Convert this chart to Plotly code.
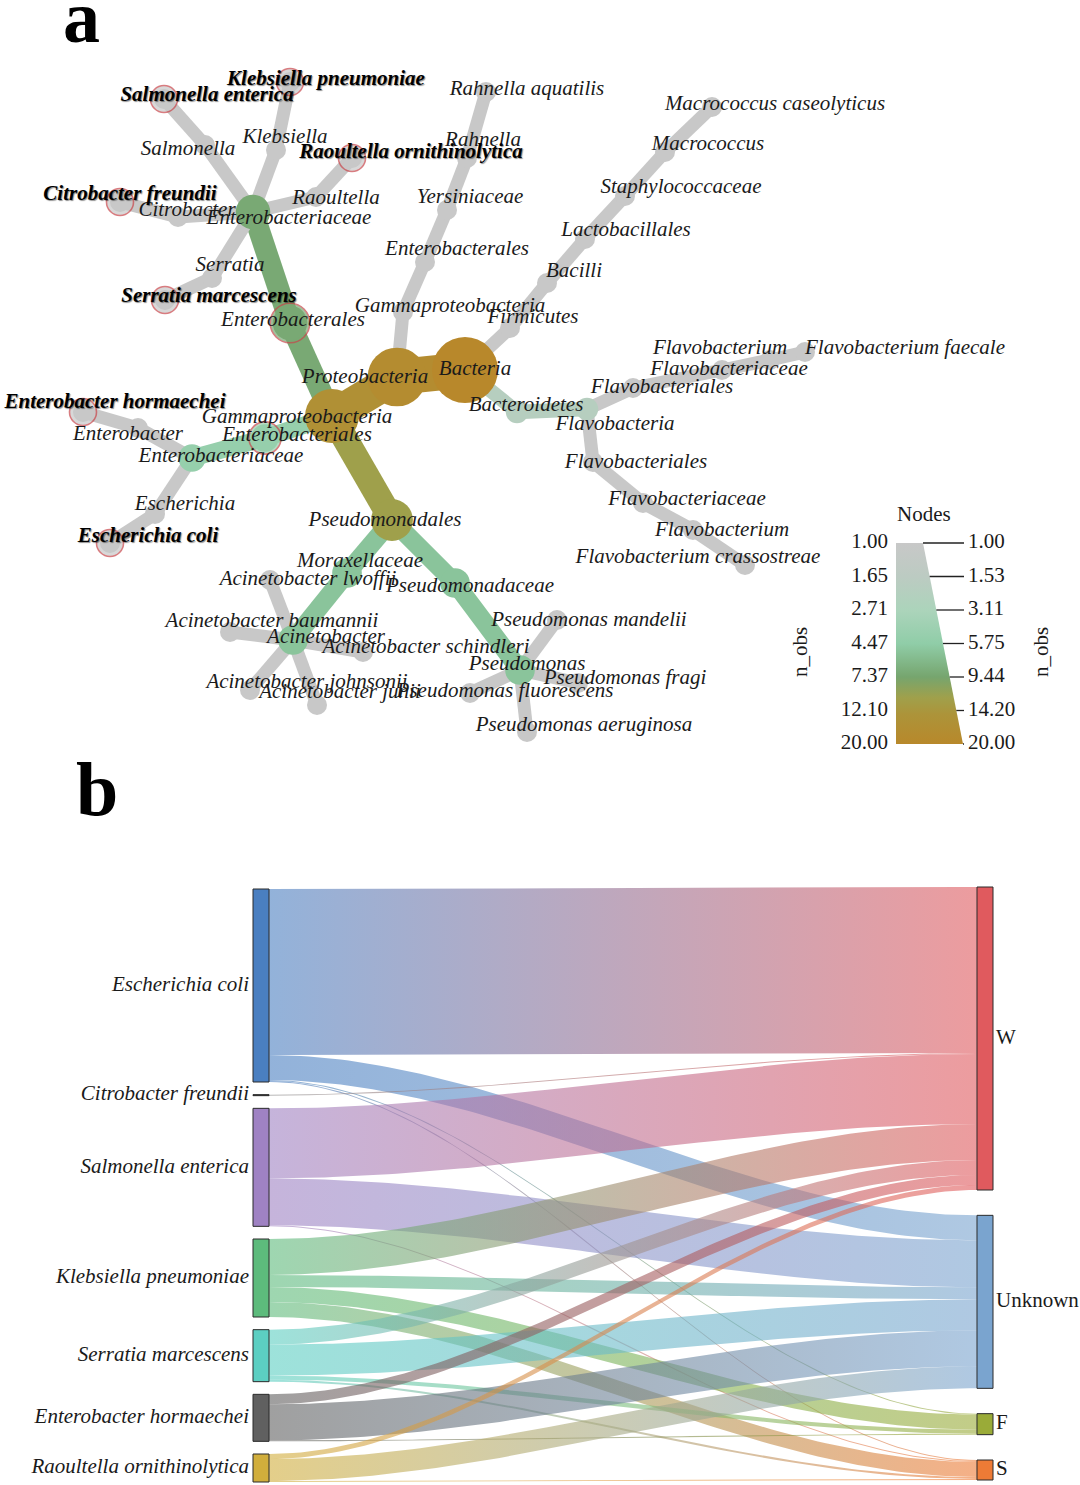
import numpy as np
import plotly.graph_objects as go
from plotly.colors import sample_colorscale

FONT = "Liberation Serif"

# ======================= Panel a : heat tree data =======================
taxa = [
    "Bacteria", "Proteobacteria", "Gammaproteobacteria", "Enterobacterales", "Enterobacteriaceae",
    "Salmonella", "Salmonella enterica", "Klebsiella", "Klebsiella pneumoniae", "Raoultella",
    "Raoultella ornithinolytica", "Citrobacter", "Citrobacter freundii", "Serratia", "Serratia marcescens",
    "Enterobacteriales", "Enterobacteriaceae", "Enterobacter", "Enterobacter hormaechei", "Escherichia",
    "Escherichia coli", "Pseudomonadales", "Moraxellaceae", "Acinetobacter", "Acinetobacter lwoffii",
    "Acinetobacter baumannii", "Acinetobacter schindleri", "Acinetobacter johnsonii", "Acinetobacter junii",
    "Pseudomonadaceae", "Pseudomonas", "Pseudomonas mandelii", "Pseudomonas fragi", "Pseudomonas fluorescens",
    "Pseudomonas aeruginosa", "Gammaproteobacteria", "Enterobacterales", "Yersiniaceae", "Rahnella",
    "Rahnella aquatilis", "Firmicutes", "Bacilli", "Lactobacillales", "Staphylococcaceae", "Macrococcus",
    "Macrococcus caseolyticus", "Bacteroidetes", "Flavobacteria", "Flavobacteriales", "Flavobacteriaceae",
    "Flavobacterium", "Flavobacterium faecale", "Flavobacteriales", "Flavobacteriaceae", "Flavobacterium",
    "Flavobacterium crassostreae",
]
parent = [
    -1, 0, 1, 2, 3, 4, 5, 4, 7, 4, 9, 4, 11, 4, 13,
    2, 15, 16, 17, 16, 19,
    2, 21, 22, 23, 23, 23, 23, 23, 21, 29, 30, 30, 30, 30,
    1, 35, 36, 37, 38,
    0, 40, 41, 42, 43, 44,
    0, 46, 47, 48, 49, 50, 47, 52, 53, 54,
]
n_obs = [
    20, 17, 15, 7, 7, 1, 1, 1, 1, 1, 1, 1, 1, 1, 1,
    4, 4, 1, 1, 1, 1,
    10, 5, 5, 1, 1, 1, 1, 1, 5, 5, 1, 1, 1, 1,
    1, 1, 1, 1, 1,
    1, 1, 1, 1, 1, 1,
    2, 2, 1, 1, 1, 1, 1, 1, 1, 1,
]
# layout coordinates of the tree
node_x = [
    465, 397, 332, 290, 253, 205, 164, 276, 290, 316, 352, 178, 120, 212, 165,
    265, 192, 138, 83, 155, 110,
    392, 347, 293, 270, 230, 363, 250, 317, 455, 520, 557, 578, 470, 527,
    403, 425, 447, 467, 486,
    510, 547, 585, 625, 665, 712,
    517, 587, 633, 722, 770, 805, 593, 643, 693, 745,
]
node_y = [
    370, 377, 416, 323, 212, 145, 99, 150, 82, 197, 158, 217, 202, 278, 300,
    438, 458, 428, 412, 514, 543,
    520, 573, 640, 580, 632, 652, 690, 705, 583, 670, 620, 683, 693, 732,
    312, 262, 210, 158, 92,
    328, 283, 239, 196, 152, 107,
    412, 409, 388, 370, 360, 352, 462, 503, 530, 565,
]
label_x = [
    475, 365, 297, 293, 289, 188, 207, 285, 326, 336, 411, 187, 130, 230, 209,
    297, 221, 128, 115, 185, 148,
    385, 360, 326, 308, 272, 426, 307, 340, 470, 527, 589, 625, 505, 584,
    450, 457, 470, 483, 527,
    533, 574, 626, 681, 708, 775,
    526, 615, 662, 729, 720, 905, 636, 687, 722, 698,
]
label_y = [
    370, 378, 418, 321, 219, 150, 96, 138, 80, 199, 153, 211, 195, 266, 297,
    436, 457, 435, 403, 505, 537,
    521, 562, 638, 580, 622, 648, 683, 693, 587, 665, 621, 679, 692, 726,
    307, 250, 198, 141, 90,
    318, 272, 231, 188, 145, 105,
    406, 425, 388, 370, 349, 349, 463, 500, 531, 558,
]
focus_species = [6, 8, 10, 12, 14, 18, 20]
ringed_nodes = [6, 8, 10, 12, 14, 18, 20, 3, 15]

color_ticks = [1.00, 1.65, 2.71, 4.47, 7.37, 12.10, 20.00]
size_ticks = [1.00, 1.53, 3.11, 5.75, 9.44, 14.20, 20.00]

# ======================= Panel b : sankey data =======================
sources = ["Escherichia coli", "Citrobacter freundii", "Salmonella enterica", "Klebsiella pneumoniae",
           "Serratia marcescens", "Enterobacter hormaechei", "Raoultella ornithinolytica"]
targets = ["W", "Unknown", "F", "S"]
flow_W = [166, 1, 70, 36, 15, 10, 5]
flow_Unknown = [25, 0, 47, 12, 31, 36, 22]
flow_F = [1, 0, 0, 15, 4, 1, 0]
flow_S = [1, 0, 1, 15, 2, 0, 1]

# ======================= styles =======================
heat_cs = [[0.0, "rgb(200,200,200)"], [0.1667, "rgb(188,203,194)"], [0.3333, "rgb(172,212,187)"],
           [0.5, "rgb(144,205,168)"], [0.6667, "rgb(118,165,110)"], [0.77, "rgb(160,160,75)"],
           [0.85, "rgb(172,148,58)"], [1.0, "rgb(184,136,43)"]]
src_colors = ["#4a7fc1", "#8a8a8a", "#9f82c3", "#5dbb7c", "#5ccfc2", "#606060", "#d1ae3c"]
tgt_colors = ["#e05a5e", "#7aa4cf", "#9aab38", "#ee7b36"]


def heat_color(n):
    return sample_colorscale(heat_cs, [np.log(n) / np.log(20.0)])[0]


def node_r(n):
    return 10 + 23 * (n - 1) / 19.0


def edge_w(n):
    return 13 + 27 * (n - 1) / 19.0


def rgba(hexc, a):
    h = hexc.lstrip("#")
    return "rgba(%d,%d,%d,%.3f)" % (int(h[0:2], 16), int(h[2:4], 16), int(h[4:6], 16), a)


fig = go.Figure()

# ---------- tree edges ----------
for i, p in enumerate(parent):
    if p < 0:
        continue
    fig.add_trace(go.Scatter(
        x=[node_x[p], node_x[i]], y=[node_y[p], node_y[i]], mode="lines",
        line=dict(color=heat_color(n_obs[i]), width=edge_w(n_obs[i])),
        hoverinfo="skip", showlegend=False))

# ---------- tree nodes ----------
fig.add_trace(go.Scatter(
    x=node_x, y=node_y, mode="markers",
    marker=dict(size=[2 * node_r(n) for n in n_obs], color=[heat_color(n) for n in n_obs],
                line=dict(width=0), opacity=1),
    hoverinfo="skip", showlegend=False))

# red rings
ring_sizes = [27 if i in focus_species else 2 * node_r(n_obs[i]) + 5 for i in ringed_nodes]
fig.add_trace(go.Scatter(
    x=[node_x[i] for i in ringed_nodes], y=[node_y[i] for i in ringed_nodes], mode="markers",
    marker=dict(size=ring_sizes, color=[heat_color(n_obs[i]) for i in ringed_nodes],
                line=dict(color="#c8464b", width=1.6)),
    hoverinfo="skip", showlegend=False))

# labels
normal_idx = [i for i in range(len(taxa)) if i not in focus_species]
fig.add_trace(go.Scatter(
    x=[label_x[i] for i in normal_idx], y=[label_y[i] for i in normal_idx],
    text=[taxa[i] for i in normal_idx], mode="text", textposition="middle center",
    textfont=dict(family=FONT, size=21, color="#1a1a1a", style="italic"),
    hoverinfo="skip", showlegend=False))
fig.add_trace(go.Scatter(
    x=[label_x[i] for i in focus_species], y=[label_y[i] for i in focus_species],
    text=[taxa[i] for i in focus_species], mode="text", textposition="middle center",
    textfont=dict(family=FONT, size=21, color="#000000", style="italic", weight="bold",
                  shadow="1px 1px 1px rgba(0,0,0,0.45)"),
    hoverinfo="skip", showlegend=False))

# ---------- legend (Nodes) ----------
LG_TOP, LG_BOT, LG_LEFT, LG_TR, LG_BR = 543, 744, 896, 923, 963
fig.add_trace(go.Scatter(
    x=[LG_LEFT, LG_TR, LG_BR, LG_LEFT, LG_LEFT], y=[LG_TOP, LG_TOP, LG_BOT, LG_BOT, LG_TOP],
    mode="lines", line=dict(width=0), fill="toself",
    fillgradient=dict(type="vertical", colorscale=heat_cs, start=LG_TOP, stop=LG_BOT),
    hoverinfo="skip", showlegend=False))
tick_y = [LG_TOP + k * (LG_BOT - LG_TOP) / (len(color_ticks) - 1) for k in range(len(color_ticks))]
lx, ly = [], []
for ty in tick_y:
    xr = LG_TR + (LG_BR - LG_TR) * (ty - LG_TOP) / (LG_BOT - LG_TOP)
    lx += [xr, LG_BR + 1, None]
    ly += [ty, ty, None]
fig.add_trace(go.Scatter(x=lx, y=ly, mode="lines", line=dict(color="#222", width=1.3),
                         hoverinfo="skip", showlegend=False))
fig.add_trace(go.Scatter(x=[888] * len(tick_y), y=tick_y, text=["%.2f" % v for v in color_ticks],
                         mode="text", textposition="middle left",
                         textfont=dict(family=FONT, size=21, color="#1a1a1a"),
                         hoverinfo="skip", showlegend=False))
fig.add_trace(go.Scatter(x=[968] * len(tick_y), y=tick_y, text=["%.2f" % v for v in size_ticks],
                         mode="text", textposition="middle right",
                         textfont=dict(family=FONT, size=21, color="#1a1a1a"),
                         hoverinfo="skip", showlegend=False))

annotations = [
    dict(x=924, y=514, text="Nodes", showarrow=False, font=dict(family=FONT, size=21, color="#1a1a1a")),
    dict(x=800, y=652, text="n_obs", textangle=-90, showarrow=False,
         font=dict(family=FONT, size=21, color="#1a1a1a")),
    dict(x=1041, y=652, text="n_obs", textangle=-90, showarrow=False,
         font=dict(family=FONT, size=21, color="#1a1a1a")),
    dict(x=81, y=60, text="<b>a</b>", showarrow=False, yanchor="bottom",
         font=dict(family=FONT, size=74, color="#000")),
    dict(x=97, y=833, text="<b>b</b>", showarrow=False, yanchor="bottom",
         font=dict(family=FONT, size=76, color="#000")),
]

# ---------- Sankey (panel b) ----------
flows = [flow_W, flow_Unknown, flow_F, flow_S]
src_tot = [sum(f[i] for f in flows) for i in range(len(sources))]
tgt_tot = [sum(f) for f in flows]
K = 1.0  # px per unit
L_TOP, L_BOT, R_TOP, R_BOT = 889, 1482, 887, 1480
XL0, XL1, XR0, XR1 = 253, 269, 977, 993
gap_l = ((L_BOT - L_TOP) - K * sum(src_tot)) / (len(sources) - 1)
gap_r = ((R_BOT - R_TOP) - K * sum(tgt_tot)) / (len(targets) - 1)
s_y0 = []
y = L_TOP
for v in src_tot:
    s_y0.append(y)
    y += v * K + gap_l
t_y0 = []
y = R_TOP
for v in tgt_tot:
    t_y0.append(y)
    y += v * K + gap_r

xs = np.linspace(XL1, XR0, 90)
tt = (xs - XL1) / (XR0 - XL1)
ss = tt * tt * (3 - 2 * tt)
s_off = [0.0] * len(sources)
t_off = [0.0] * len(targets)
for i in range(len(sources)):
    for j in range(len(targets)):
        v = flows[j][i]
        if v <= 0:
            continue
        ys_a = s_y0[i] + s_off[i]
        ys_b = ys_a + v * K
        yt_a = t_y0[j] + t_off[j]
        yt_b = yt_a + v * K
        s_off[i] += v * K
        t_off[j] += v * K
        top = ys_a + (yt_a - ys_a) * ss
        bot = ys_b + (yt_b - ys_b) * ss
        fig.add_trace(go.Scatter(
            x=np.concatenate([xs, xs[::-1]]), y=np.concatenate([top, bot[::-1]]),
            mode="lines", line=dict(width=0), fill="toself",
            fillgradient=dict(type="horizontal", start=XL1, stop=XR0,
                              colorscale=[[0, rgba(src_colors[i], 0.6)], [1, rgba(tgt_colors[j], 0.6)]]),
            hoverinfo="skip", showlegend=False))

shapes = []
for i, nm in enumerate(sources):
    shapes.append(dict(type="rect", xref="x", yref="y", x0=XL0, x1=XL1, y0=s_y0[i],
                       y1=s_y0[i] + src_tot[i] * K, fillcolor=src_colors[i] if src_tot[i] > 2 else "#222",
                       line=dict(color="#2a2a2a", width=1)))
for j, nm in enumerate(targets):
    shapes.append(dict(type="rect", xref="x", yref="y", x0=XR0, x1=XR1, y0=t_y0[j],
                       y1=t_y0[j] + tgt_tot[j] * K, fillcolor=tgt_colors[j],
                       line=dict(color="#2a2a2a", width=1)))

fig.add_trace(go.Scatter(
    x=[XL0 - 4] * len(sources), y=[s_y0[i] + src_tot[i] * K / 2 for i in range(len(sources))],
    text=sources, mode="text", textposition="middle left",
    textfont=dict(family=FONT, size=21, color="#1a1a1a", style="italic"),
    hoverinfo="skip", showlegend=False))
fig.add_trace(go.Scatter(
    x=[XR1 + 3] * len(targets), y=[t_y0[j] + tgt_tot[j] * K / 2 for j in range(len(targets))],
    text=targets, mode="text", textposition="middle right",
    textfont=dict(family=FONT, size=21, color="#1a1a1a"),
    hoverinfo="skip", showlegend=False))

fig.update_layout(
    width=1080, height=1485, margin=dict(l=0, r=0, t=0, b=0),
    paper_bgcolor="white", plot_bgcolor="white", showlegend=False,
    font=dict(family=FONT),
    xaxis=dict(range=[0, 1080], visible=False, fixedrange=True),
    yaxis=dict(range=[1485, 0], visible=False, fixedrange=True),
    shapes=shapes, annotations=annotations,
)
fig.write_html("out.html", config={"displayModeBar": False, "staticPlot": True},
               post_script="document.body.style.margin='0';document.body.style.overflow='hidden';")
